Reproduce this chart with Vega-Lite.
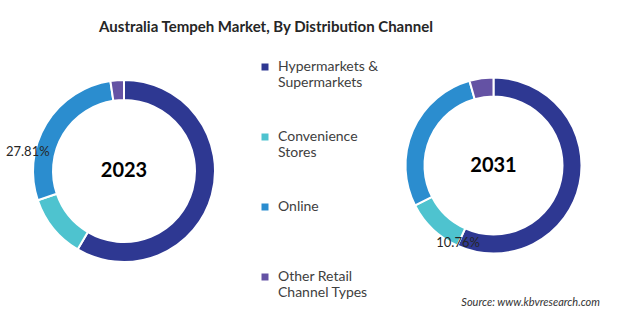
{
  "$schema": "https://vega.github.io/schema/vega-lite/v6.json",
  "background": "white",
  "padding": {"left": 0, "top": 20, "right": 0, "bottom": 0},
  "title": {
    "text": "Australia Tempeh Market, By Distribution Channel",
    "font": "Lato",
    "fontSize": 15,
    "fontWeight": "bold",
    "color": "#262626",
    "anchor": "middle",
    "dx": -34,
    "offset": 5
  },
  "datasets": {
    "shares": [
      {"year": "2023", "channel": "Hypermarkets & Supermarkets", "rank": 1, "share": 0.585},
      {"year": "2023", "channel": "Convenience Stores", "rank": 2, "share": 0.113},
      {"year": "2023", "channel": "Online", "rank": 3, "share": 0.2781},
      {"year": "2023", "channel": "Other Retail Channel Types", "rank": 4, "share": 0.0239},
      {"year": "2031", "channel": "Hypermarkets & Supermarkets", "rank": 1, "share": 0.5674},
      {"year": "2031", "channel": "Convenience Stores", "rank": 2, "share": 0.1076},
      {"year": "2031", "channel": "Online", "rank": 3, "share": 0.281},
      {"year": "2031", "channel": "Other Retail Channel Types", "rank": 4, "share": 0.044}
    ]
  },
  "data": {"name": "shares"},
  "spacing": 152,
  "hconcat": [
    {
      "width": 248,
      "height": 262,
      "transform": [{"filter": "datum.year == '2023'"}],
      "layer": [
        {
          "mark": {"type": "arc", "outerRadius": 91, "innerRadius": 71, "stroke": "white", "strokeWidth": 2},
          "encoding": {
            "theta": {"field": "share", "type": "quantitative", "stack": true},
            "order": {"field": "rank", "type": "quantitative"},
            "color": {
              "field": "channel",
              "type": "nominal",
              "scale": {
                "domain": ["Hypermarkets & Supermarkets", "Convenience Stores", "Online", "Other Retail Channel Types"],
                "range": ["#2e3892", "#4ec3cf", "#2b8dcf", "#6452a4"]
              },
              "legend": {
                "orient": "none",
                "legendX": 258,
                "legendY": 20,
                "title": null,
                "symbolType": "square",
                "symbolSize": 49,
                "symbolStrokeWidth": 0,
                "labelFont": "Lato",
                "labelFontSize": 14,
                "labelColor": "#404040",
                "labelLimit": 300,
                "labelOffset": 6,
                "rowPadding": 40,
                "gridAlign": "all",
                "labelBaseline": "middle",
                "labelExpr": "datum.label == 'Hypermarkets & Supermarkets' ? ['Hypermarkets &', 'Supermarkets'] : datum.label == 'Convenience Stores' ? ['Convenience', 'Stores'] : datum.label == 'Other Retail Channel Types' ? ['Other Retail', 'Channel Types'] : datum.label"
              }
            }
          }
        },
        {
          "transform": [{"filter": "datum.channel == 'Online'"}],
          "mark": {"type": "text", "theta": 4.904, "radius": 98, "font": "Lato", "fontSize": 13, "color": "#262626"},
          "encoding": {"text": {"field": "share", "type": "quantitative", "format": ".2%"}}
        },
        {
          "transform": [{"aggregate": [{"op": "count", "as": "n"}], "groupby": ["year"]}],
          "mark": {"type": "text", "font": "Lato", "fontSize": 20, "fontWeight": "bold", "color": "#000000"},
          "encoding": {"text": {"field": "year", "type": "nominal"}}
        }
      ]
    },
    {
      "width": 187,
      "height": 251,
      "title": {
        "text": "Source: www.kbvresearch.com",
        "orient": "bottom",
        "anchor": "end",
        "font": "Lato",
        "fontSize": 11,
        "fontStyle": "italic",
        "fontWeight": "normal",
        "color": "#333333",
        "dx": 13,
        "offset": 6
      },
      "transform": [{"filter": "datum.year == '2031'"}],
      "layer": [
        {
          "mark": {"type": "arc", "outerRadius": 88, "innerRadius": 69, "stroke": "white", "strokeWidth": 2},
          "encoding": {
            "theta": {"field": "share", "type": "quantitative", "stack": true},
            "order": {"field": "rank", "type": "quantitative"},
            "color": {
              "field": "channel",
              "type": "nominal",
              "scale": {
                "domain": ["Hypermarkets & Supermarkets", "Convenience Stores", "Online", "Other Retail Channel Types"],
                "range": ["#2e3892", "#4ec3cf", "#2b8dcf", "#6452a4"]
              },
              "legend": {
                "orient": "none",
                "legendX": 258,
                "legendY": 20,
                "title": null,
                "symbolType": "square",
                "symbolSize": 49,
                "symbolStrokeWidth": 0,
                "labelFont": "Lato",
                "labelFontSize": 14,
                "labelColor": "#404040",
                "labelLimit": 300,
                "labelOffset": 6,
                "rowPadding": 40,
                "gridAlign": "all",
                "labelBaseline": "middle",
                "labelExpr": "datum.label == 'Hypermarkets & Supermarkets' ? ['Hypermarkets &', 'Supermarkets'] : datum.label == 'Convenience Stores' ? ['Convenience', 'Stores'] : datum.label == 'Other Retail Channel Types' ? ['Other Retail', 'Channel Types'] : datum.label"
              }
            }
          }
        },
        {
          "transform": [{"filter": "datum.channel == 'Convenience Stores'"}],
          "mark": {"type": "text", "theta": 3.571, "radius": 85, "font": "Lato", "fontSize": 13, "color": "#262626"},
          "encoding": {"text": {"field": "share", "type": "quantitative", "format": ".2%"}}
        },
        {
          "transform": [{"aggregate": [{"op": "count", "as": "n"}], "groupby": ["year"]}],
          "mark": {"type": "text", "font": "Lato", "fontSize": 20, "fontWeight": "bold", "color": "#000000"},
          "encoding": {"text": {"field": "year", "type": "nominal"}}
        }
      ]
    }
  ],
  "config": {
    "view": {"stroke": null},
    "font": "Lato"
  }
}
